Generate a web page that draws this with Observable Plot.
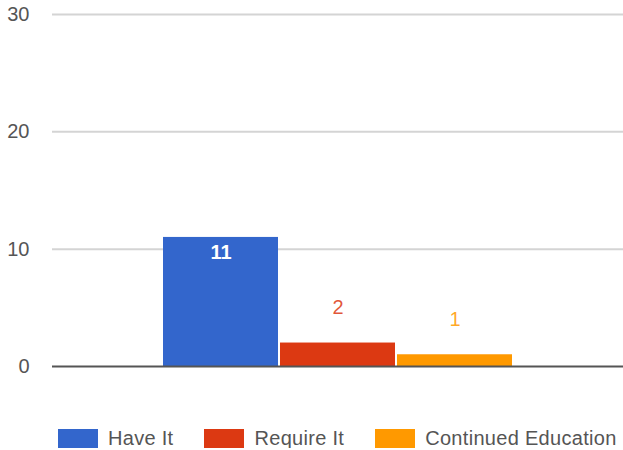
<!DOCTYPE html>
<html>
<head>
<meta charset="utf-8">
<script src="https://cdn.jsdelivr.net/npm/d3@7"></script>
<script src="https://cdn.jsdelivr.net/npm/@observablehq/plot@0.6"></script>
<style>
  body { margin: 0; background: #fff; font-family: Arial, "Liberation Sans", sans-serif; }
  #chart { width: 623px; }
  .legend { display: flex; align-items: center; padding-top: 49px; padding-left: 58px; white-space: nowrap; }
  .legend .item { display: flex; align-items: center; margin-right: 31px; flex-shrink: 0; }
  .legend .item:last-child { margin-right: 0; }
  .legend .swatch { width: 40px; height: 19px; margin-right: 10px; flex-shrink: 0; }
  .legend .name { font-size: 20px; letter-spacing: 0.3px; color: #555; line-height: 19px; white-space: nowrap; }
</style>
</head>
<body>
<div id="chart"></div>
<script>
const series = ["Have It", "Require It", "Continued Education"];
const values = [11, 2, 1];
const colors = ["#3366cc", "#dc3912", "#ff9900"];
const yTicks = [0, 10, 20, 30];

const data = series.map((s, i) => ({series: s, value: values[i]}));
const inside = data.filter(d => d.value >= 5);
const outside = data.filter(d => d.value < 5);

const chart = Plot.plot({
  width: 623,
  height: 380,
  marginTop: 14,
  marginBottom: 14,
  marginLeft: 52,
  marginRight: 0,
  style: {fontFamily: "Arial, 'Liberation Sans', sans-serif", fontSize: "20px", color: "#555", background: "#fff"},
  x: {domain: series, paddingInner: 0.017, paddingOuter: 0.928, axis: null},
  y: {domain: [0, 30], axis: null},
  color: {domain: series, range: colors},
  marks: [
    Plot.gridY(yTicks.filter(t => t !== 0), {stroke: "#d4d4d4", strokeOpacity: 1, strokeWidth: 2}),
    Plot.axisY(yTicks, {tickSize: 0, tickPadding: 23, label: null, fill: "#555", fontSize: 20}),
    Plot.barY(data, {x: "series", y: "value", fill: "series"}),
    Plot.ruleY([0], {stroke: "#555", strokeWidth: 2}),
    Plot.text(inside, {x: "series", y: "value", text: d => String(d.value), dy: 15, fill: "#fff", fontWeight: "bold", fontSize: 20, lineAnchor: "middle"}),
    Plot.text(outside, {x: "series", y: "value", text: d => String(d.value), dy: -35, fill: "series", fillOpacity: 0.85, fontSize: 20, lineAnchor: "middle"})
  ]
});
document.getElementById("chart").appendChild(chart);

const legend = document.createElement("div");
legend.className = "legend";
series.forEach((s, i) => {
  const item = document.createElement("div");
  item.className = "item";
  const sw = document.createElement("div");
  sw.className = "swatch";
  sw.style.background = colors[i];
  const name = document.createElement("span");
  name.className = "name";
  name.textContent = s;
  item.appendChild(sw);
  item.appendChild(name);
  legend.appendChild(item);
});
document.getElementById("chart").appendChild(legend);
</script>
</body>
</html>
